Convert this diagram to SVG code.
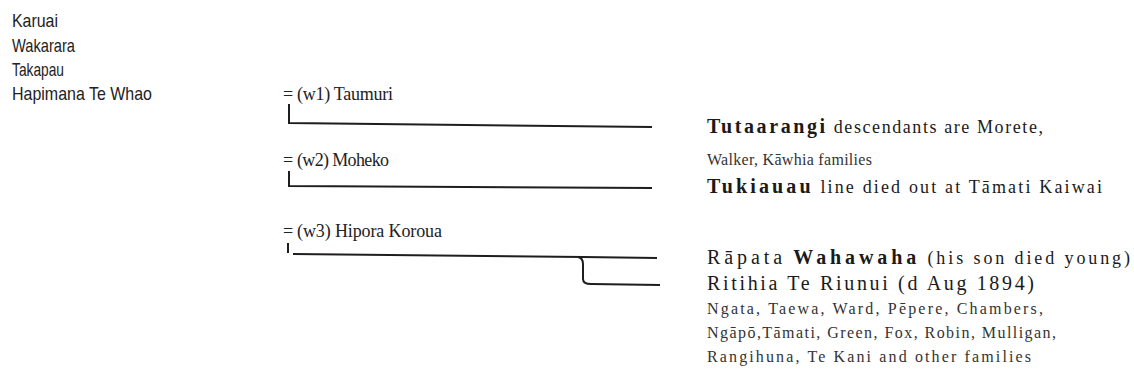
<svg xmlns="http://www.w3.org/2000/svg" width="1134" height="381" viewBox="0 0 1134 381">
<style>
.anc{font-family:"Liberation Sans",Arial,sans-serif;font-size:19px;fill:#222}
.mid{font-family:"Liberation Serif","Times New Roman",serif;font-size:18px;fill:#222}
.big{font-family:"Liberation Serif","Times New Roman",serif;font-size:18px;fill:#1a1a1a}
.sm{font-family:"Liberation Serif","Times New Roman",serif;font-size:16px;fill:#333}
.b{font-weight:bold;font-size:20px;letter-spacing:1px}
.l{font-size:20px;letter-spacing:1px}
.ln{fill:none;stroke:#1e1e1e;stroke-width:2}
</style>
<rect width="1134" height="381" fill="#fff"/>
<g id="ancestors">
<text class="anc" x="12" y="27" textLength="46" lengthAdjust="spacingAndGlyphs">Karuai</text>
<text class="anc" x="12" y="52" textLength="63" lengthAdjust="spacingAndGlyphs">Wakarara</text>
<text class="anc" x="12" y="76" textLength="52" lengthAdjust="spacingAndGlyphs">Takapau</text>
<text class="anc" x="12" y="100" textLength="140" lengthAdjust="spacingAndGlyphs">Hapimana Te Whao</text>
</g>
<g id="wife1"><text class="mid" x="283" y="100">=</text><text class="mid" x="297" y="100" textLength="96">(w1) Taumuri</text></g>
<g id="wife2"><text class="mid" x="283" y="166">=</text><text class="mid" x="297" y="166" textLength="92">(w2) Moheko</text></g>
<g id="wife3"><text class="mid" x="283" y="237">=</text><text class="mid" x="297" y="237" textLength="145">(w3) Hipora Koroua</text></g>
<g id="tutaarangi">
<text class="big" x="707" y="133" textLength="336"><tspan class="b">Tutaarangi</tspan> descendants are Morete,</text>
<text class="sm" x="707" y="165" textLength="165">Walker, Kāwhia families</text>
</g>
<g id="tukiauau"><text class="big" x="707" y="193" textLength="395"><tspan class="b">Tukiauau</tspan>  line died out at Tāmati Kaiwai</text></g>
<g id="rapata"><text class="big" x="707" y="264" textLength="423"><tspan class="l">Rāpata</tspan>  <tspan class="b">Wahawaha</tspan> (his son died young)</text></g>
<g id="ritihia">
<text class="big" x="707" y="290" textLength="328" style="font-size:20px;letter-spacing:1px">Ritihia Te Riunui (d Aug 1894)</text>
<text class="sm" x="707" y="314" textLength="336">Ngata, Taewa, Ward, Pēpere, Chambers,</text>
<text class="sm" x="707" y="338" textLength="349">Ngāpō,Tāmati, Green, Fox, Robin, Mulligan,</text>
<text class="sm" x="707" y="362" textLength="324">Rangihuna, Te Kani  and other families</text>
</g>
<g id="connectors">
<path class="ln" d="M289,104 L289,123 L652,127"/>
<path class="ln" d="M289,171 L289,186 L652,188"/>
<path class="ln" d="M288,243 L288,253"/>
<path class="ln" d="M293,254 L583,257 L657,258"/>
<path class="ln" d="M578,257 Q583,258 583,264 L583,279 Q583,284 591,284 L660,285"/>
</g>
</svg>
